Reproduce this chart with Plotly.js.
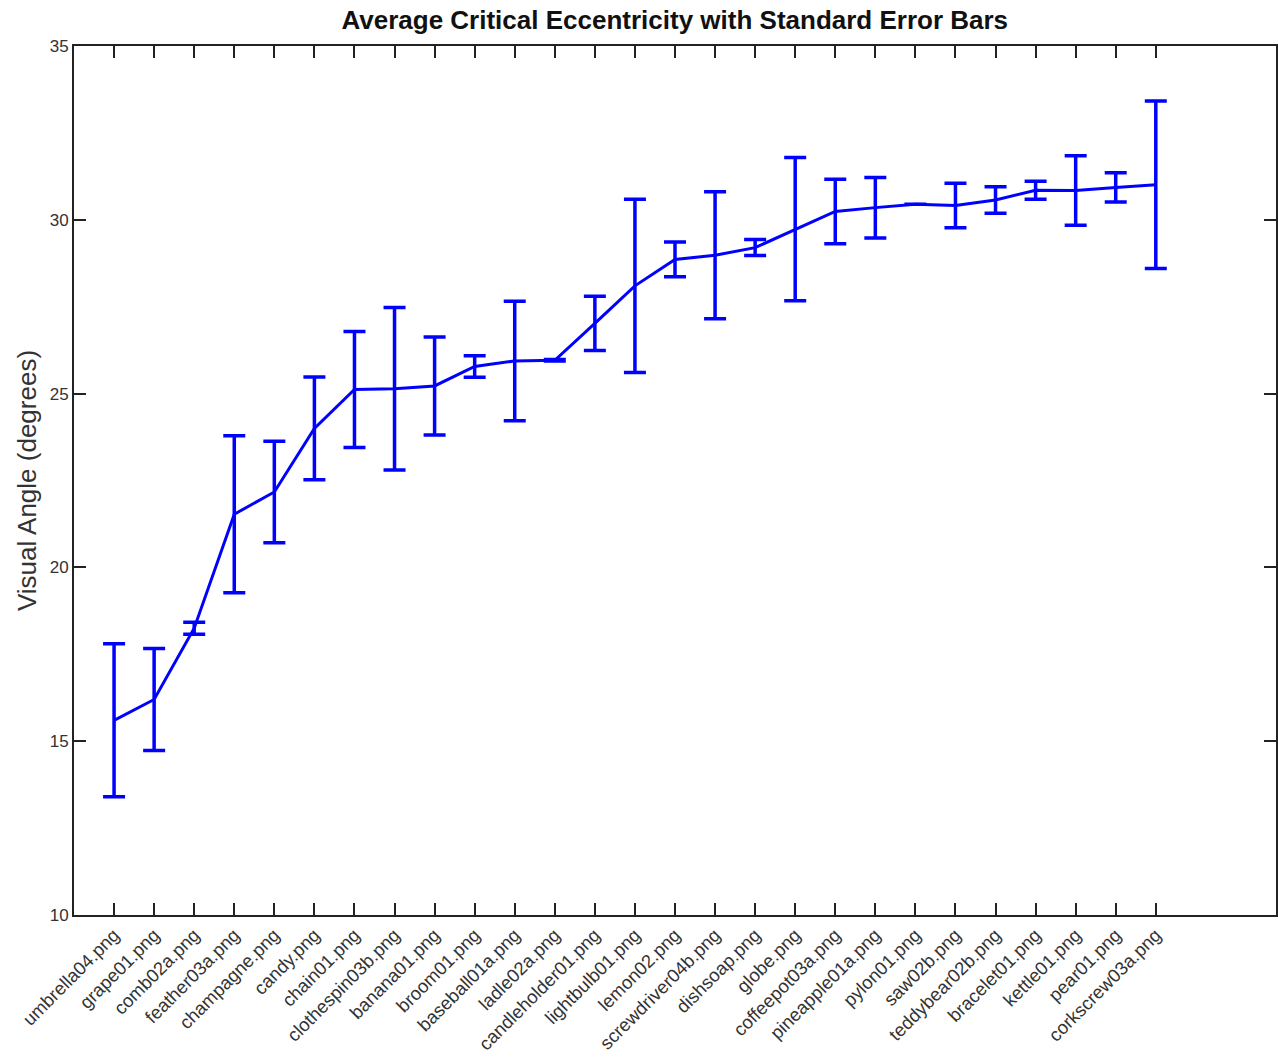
<!DOCTYPE html>
<html>
<head>
<meta charset="utf-8">
<script src="https://cdn.plot.ly/plotly-3.0.1.min.js"></script>
<style>html,body{margin:0;padding:0;background:#fff;}#chart{width:1278px;height:1059px;}</style>
</head>
<body>
<div id="chart"></div>
<script>
const categories = ["umbrella04.png","grape01.png","comb02a.png","feather03a.png","champagne.png","candy.png","chain01.png","clothespin03b.png","banana01.png","broom01.png","baseball01a.png","ladle02a.png","candleholder01.png","lightbulb01.png","lemon02.png","screwdriver04b.png","dishsoap.png","globe.png","coffeepot03a.png","pineapple01a.png","pylon01.png","saw02b.png","teddybear02b.png","bracelet01.png","kettle01.png","pear01.png","corkscrew03a.png"];
const meanAngle = [15.6,16.2,18.25,21.53,22.17,24.0,25.12,25.14,25.22,25.78,25.94,25.96,27.02,28.1,28.86,28.98,29.2,29.73,30.24,30.35,30.45,30.41,30.57,30.85,30.84,30.93,31.01];
const stdErr = [2.2,1.47,0.17,2.26,1.46,1.48,1.67,2.34,1.41,0.31,1.72,0.02,0.78,2.49,0.5,1.83,0.23,2.06,0.93,0.87,0,0.64,0.38,0.26,1.0,0.42,2.41];
const yTicks = [10,15,20,25,30,35];

const xPos = categories.map((c,i)=>i+1);

const trace = {
  x: xPos, y: meanAngle, type: 'scatter', mode: 'lines',
  line: {color: '#0000ff', width: 3},
  error_y: {type: 'data', array: stdErr, visible: true, color: '#0000ff', thickness: 3.5, width: 11},
  hoverinfo: 'skip'
};

const fam = 'Liberation Sans, Arial, sans-serif';
const layout = {
  width: 1278, height: 1059,
  margin: {l: 74, r: 2, t: 46, b: 144},
  paper_bgcolor: '#fff', plot_bgcolor: '#fff',
  showlegend: false,
  title: {text: 'Average Critical Eccentricity with Standard Error Bars', x: 0.528, xanchor: 'center', y: 0.981, yanchor: 'middle',
    font: {family: fam, size: 26, color: '#111', weight: 'bold'}},
  xaxis: {
    range: [0, 30], tickmode: 'array', tickvals: xPos, ticktext: categories, tickangle: -45,
    ticks: 'inside', ticklen: 12, tickwidth: 2, tickcolor: '#222',
    showline: true, linecolor: '#222', linewidth: 2, mirror: 'ticks',
    showgrid: false, zeroline: false, tickfont: {family: fam, size: 18.5, color: '#333'}, fixedrange: true
  },
  yaxis: {
    range: [10, 35], tickmode: 'array', tickvals: yTicks, ticktext: yTicks.map(String),
    ticks: 'inside', ticklen: 12, tickwidth: 2, tickcolor: '#222',
    showline: true, linecolor: '#222', linewidth: 2, mirror: 'ticks',
    showgrid: false, zeroline: false, tickfont: {family: fam, size: 17, color: '#333'}, fixedrange: true,
    title: {text: 'Visual Angle (degrees)', standoff: 6, font: {family: fam, size: 26, color: '#333'}}
  }
};
Plotly.newPlot('chart', [trace], layout, {displayModeBar: false, staticPlot: true});
</script>
</body>
</html>
